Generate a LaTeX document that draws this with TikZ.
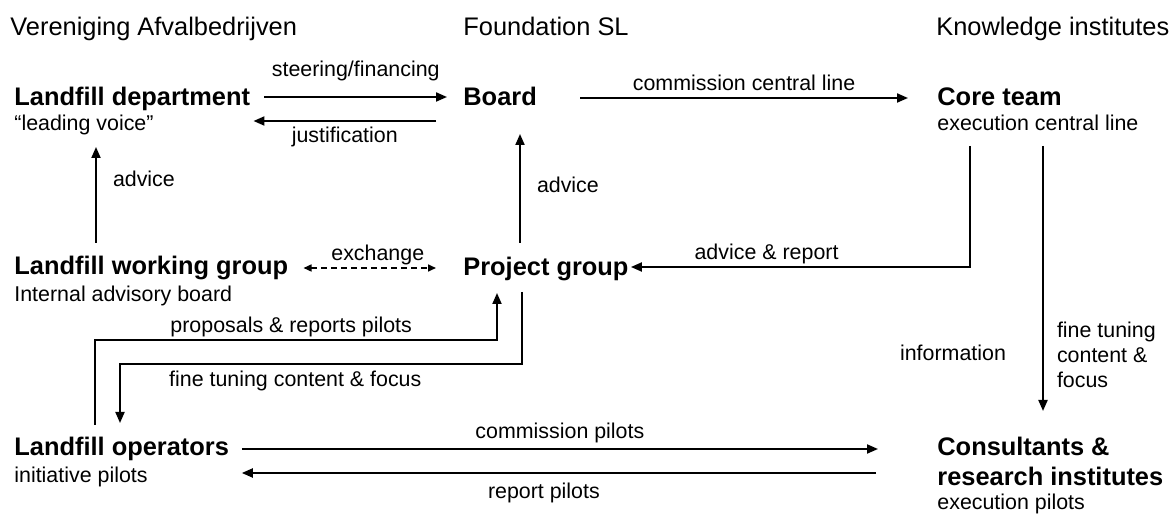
\documentclass[tikz,border=0pt]{standalone}
\usepackage{fontspec}
\setmainfont{Liberation Sans}
\usetikzlibrary{arrows.meta}

\tikzset{
  head/.style={inner sep=0pt, anchor=base west, font=\fontsize{12.7}{15}\selectfont},
  unit/.style={inner sep=0pt, anchor=base west, font=\fontsize{12.7}{15}\selectfont\bfseries},
  note/.style={inner sep=0pt, anchor=base west, font=\fontsize{10.7}{12.5}\selectfont},
  lbl/.style={inner sep=0pt, anchor=base, font=\fontsize{10.7}{12.5}\selectfont},
  flow/.style={line width=1pt, -{Triangle[length=5.5pt,width=4.5pt]}},
  swap/.style={line width=0.8pt, dash pattern=on 3pt off 2pt,
    {Triangle[length=4pt,width=3.5pt]}-{Triangle[length=4pt,width=3.5pt]}}
}

\begin{document}
\begin{tikzpicture}[x=0.5pt,y=-0.5pt]
\useasboundingbox (0,0) rectangle (1175,518);

% column heads
\node[head] (va) at (10,36) {Vereniging Afvalbedrijven};
\node[head] (fsl) at (463,36) {Foundation SL};
\node[head] (ki) at (936,36) {Knowledge institutes};

% parties
\node[unit] (dept) at (14,106) {Landfill department};
\node[note] (dept-sub) at (14,131) {“leading voice”};
\node[unit] (board) at (463,106) {Board};
\node[unit] (core) at (937,106) {Core team};
\node[note] (core-sub) at (937,131) {execution central line};
\node[unit] (lwg) at (14,275) {Landfill working group};
\node[note] (lwg-sub) at (14,302) {Internal advisory board};
\node[unit] (pg) at (463,276) {Project group};
\node[unit] (lop) at (14,456) {Landfill operators};
\node[note] (lop-sub) at (14,483) {initiative pilots};
\node[unit, anchor=north west, align=left] (cons) at (937,437) {Consultants \&\\research institutes};
\node[note] (cons-sub) at (937,510) {execution pilots};
\node[lbl] (info) at (953,361) {information};

% top row
\draw[flow] ([shift={(14,-9)}]dept.base east) -- node[lbl, yshift=10pt] {steering/financing} ([shift={(-16,-9)}]board.base west);
\draw[flow] ([shift={(-27,15)}]board.base west) -- node[lbl, yshift=-11pt] {justification} ([shift={(3,15)}]dept.base east);
\draw[flow] ([shift={(43,-8)}]board.base east) -- node[lbl, yshift=3.5pt] {commission central line} ([shift={(-29,-8)}]core.base west);

% advice upwards
\draw[flow] ([shift={(82,-32)}]lwg.base west) -- node[lbl, anchor=base west, xshift=8pt, yshift=4pt] {advice} ([shift={(82,41)}]dept.base west);
\draw[flow] ([shift={(57,-33)}]pg.base west) -- node[lbl, anchor=base west, xshift=8pt, yshift=-2.25pt] {advice} ([shift={(57,28)}]board.base west);

% middle row
\draw[swap] ([shift={(15,-7)}]lwg.base east) -- node[lbl, xshift=4pt, yshift=3.5pt] {exchange} ([shift={(-27,-8)}]pg.base west);
\draw[flow] ([shift={(33,40)}]core.base west) |- node[lbl, pos=0.8, yshift=3.5pt] {advice \& report} ([shift={(2,-9)}]pg.base east);
\draw[flow] ([shift={(106,40)}]core.base west) -- node[lbl, pos=0.79, anchor=west, align=left, xshift=6.5pt] {fine tuning\\content \&\\focus} ([shift={(106,-26)}]cons.north west);

% pilots
\draw[flow] ([shift={(81,-31)}]lop.base west) |- node[lbl, pos=0.744, yshift=3.5pt] {proposals \& reports pilots} ([shift={(34,64)}]pg.base west) -- ([shift={(34,17)}]pg.base west);
\draw[flow] ([shift={(59,16)}]pg.base west) |- node[lbl, pos=0.782, yshift=-11.5pt] {fine tuning content \& focus} ([shift={(106,-92)}]lop.base west) -- ([shift={(106,-33)}]lop.base west);

% bottom row
\draw[flow] ([shift={(12.5,-7)}]lop.base east) -- node[lbl, yshift=5pt] {commission pilots} ([shift={(-59,12)}]cons.north west);
\draw[flow] ([shift={(-61,36)}]cons.north west) -- node[lbl, xshift=-7.5pt, yshift=-13pt] {report pilots} ([shift={(12.5,17)}]lop.base east);
\end{tikzpicture}
\end{document}
